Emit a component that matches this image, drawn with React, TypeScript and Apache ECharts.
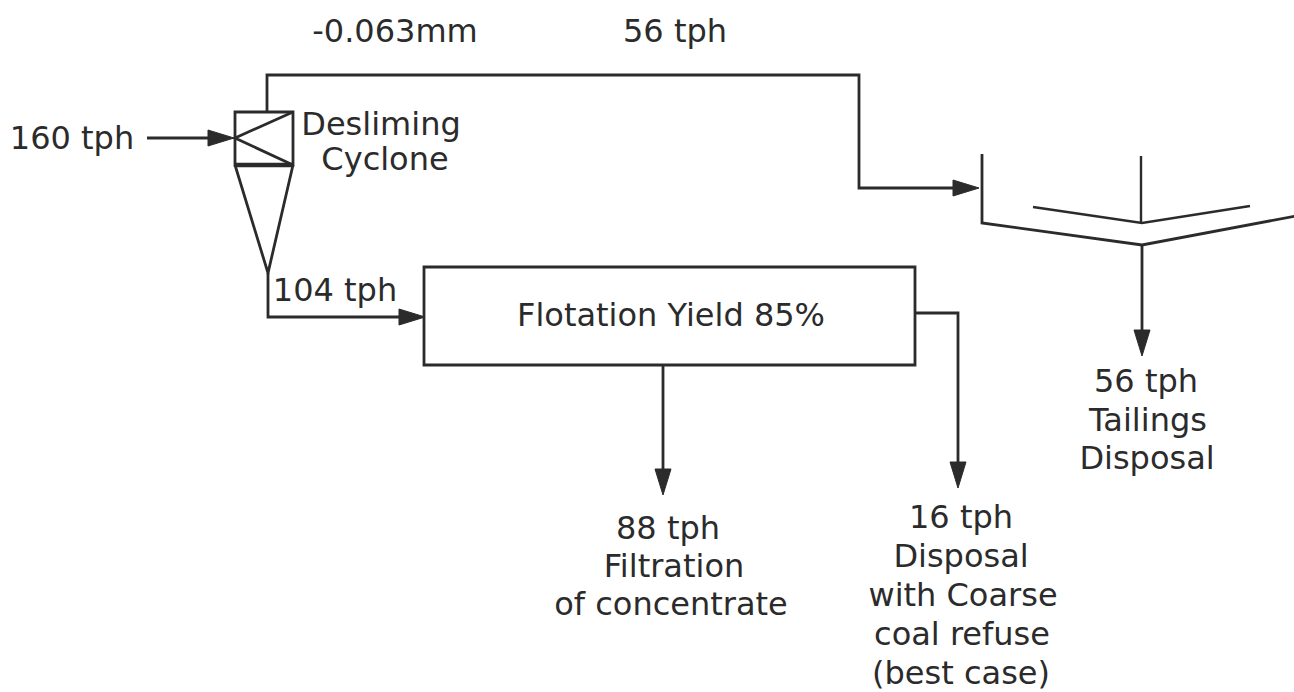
import React, { useEffect, useRef } from "react";
import * as echarts from "echarts";

// ---- Flow-sheet geometry (diagram coordinates) ----
const feedLine: [number, number][] = [[147, 138], [234, 138]];
const overflowLine: [number, number][] = [[267, 112], [267, 75], [859, 75], [859, 188], [979, 188]];
const cycloneBox: [number, number][] = [[235, 112], [293, 112], [293, 165], [235, 165]];
const cycloneBase: [number, number][] = [[235, 165], [293, 165]];
const cycloneCross: [number, number][] = [[293, 112], [235, 138], [293, 165]];
const cycloneCone: [number, number][] = [[235, 165], [268, 273], [293, 165]];
const underflowLine: [number, number][] = [[268, 273], [268, 317], [425, 317]];
const flotationBox: [number, number][] = [[424, 267], [915, 267], [915, 365], [424, 365]];
const concentrateLine: [number, number][] = [[663, 365], [663, 495]];
const refuseLine: [number, number][] = [[915, 313], [958, 313], [958, 488]];
const thickenerWall: [number, number][] = [[982, 154], [982, 223], [1142, 245], [1296, 216]];
const thickenerInner: [number, number][] = [[1033, 207], [1142, 223], [1250, 206]];
const thickenerShaft: [number, number][] = [[1141, 156], [1141, 223]];
const tailingsLine: [number, number][] = [[1142, 245], [1142, 356]];

const pathList = [
  { pts: feedLine, arrow: true, closed: false, w: 2.8 },
  { pts: overflowLine, arrow: true, closed: false, w: 2.8 },
  { pts: cycloneBox, arrow: false, closed: true, w: 2.8 },
  { pts: cycloneBase, arrow: false, closed: false, w: 4.5 },
  { pts: cycloneCross, arrow: false, closed: false, w: 2.8 },
  { pts: cycloneCone, arrow: false, closed: false, w: 2.8 },
  { pts: underflowLine, arrow: true, closed: false, w: 2.8 },
  { pts: flotationBox, arrow: false, closed: true, w: 2.8 },
  { pts: concentrateLine, arrow: true, closed: false, w: 2.8 },
  { pts: refuseLine, arrow: true, closed: false, w: 2.8 },
  { pts: thickenerWall, arrow: false, closed: false, w: 2.8 },
  { pts: thickenerInner, arrow: false, closed: false, w: 2.4 },
  { pts: thickenerShaft, arrow: false, closed: false, w: 2.4 },
  { pts: tailingsLine, arrow: true, closed: false, w: 2.8 },
];

// ---- Labels ----
const labelTexts = [
  "160 tph",
  "-0.063mm",
  "56 tph",
  "Desliming",
  "Cyclone",
  "104 tph",
  "Flotation Yield 85%",
  "88 tph",
  "Filtration",
  "of concentrate",
  "16 tph",
  "Disposal",
  "with Coarse",
  "coal refuse",
  "(best case)",
  "56 tph",
  "Tailings",
  "Disposal",
];
const labelX = [72, 395, 675, 381, 385, 335, 671, 668, 674, 671, 961, 961, 963, 962, 961, 1146, 1148, 1147];
const labelY = [138, 31, 31, 124, 159, 290, 315, 528, 566, 604, 517, 556, 595, 634, 673, 381, 420, 458];

const INK = "#2b2b2b";
const FONT = '32px "DejaVu Sans", "Liberation Sans", sans-serif';

export default function App() {
  const ref = useRef<HTMLDivElement>(null);

  useEffect(() => {
    if (!ref.current) return;
    const chart = echarts.init(ref.current, null, { renderer: "svg" });

    const option: any = {
      animation: false,
      backgroundColor: "#ffffff",
      grid: { left: 0, right: 0, top: 0, bottom: 0 },
      xAxis: { type: "value", min: 0, max: 1294, show: false },
      yAxis: { type: "value", min: 0, max: 692, inverse: true, show: false },
      series: [
        {
          type: "custom",
          coordinateSystem: "cartesian2d",
          silent: true,
          clip: false,
          data: pathList.map((p) => p.pts[0]),
          renderItem: (params: any, api: any) => {
            const p = pathList[params.dataIndex];
            const pts = p.pts.map((pt) => api.coord(pt) as number[]);
            const children: any[] = [];
            const lineStyle = { stroke: INK, lineWidth: p.w, fill: null, lineJoin: "miter" };
            if (p.arrow) {
              const n = pts.length;
              const tip = pts[n - 1];
              const prev = pts[n - 2];
              const dx = tip[0] - prev[0];
              const dy = tip[1] - prev[1];
              const len = Math.sqrt(dx * dx + dy * dy) || 1;
              const ux = dx / len;
              const uy = dy / len;
              const hl = 26;
              const hw = 8;
              const bx = tip[0] - ux * hl;
              const by = tip[1] - uy * hl;
              const linePts = pts.slice(0, n - 1).concat([[bx + ux * 4, by + uy * 4]]);
              children.push({ type: "polyline", shape: { points: linePts }, style: lineStyle });
              children.push({
                type: "polygon",
                shape: {
                  points: [
                    tip,
                    [bx - uy * hw, by + ux * hw],
                    [bx + uy * hw, by - ux * hw],
                  ],
                },
                style: { fill: INK, stroke: INK, lineWidth: 1 },
              });
            } else if (p.closed) {
              children.push({ type: "polygon", shape: { points: pts }, style: lineStyle });
            } else {
              children.push({ type: "polyline", shape: { points: pts }, style: lineStyle });
            }
            return { type: "group", children };
          },
        },
        {
          type: "custom",
          coordinateSystem: "cartesian2d",
          silent: true,
          clip: false,
          data: labelTexts.map((_, i) => [labelX[i], labelY[i]]),
          renderItem: (params: any, api: any) => {
            const c = api.coord([api.value(0), api.value(1)]);
            return {
              type: "text",
              x: c[0],
              y: c[1],
              style: {
                text: labelTexts[params.dataIndex],
                font: FONT,
                fill: INK,
                align: "center",
                verticalAlign: "middle",
              },
            };
          },
        },
      ],
    };

    chart.setOption(option);
    return () => chart.dispose();
  }, []);

  return (
    <div
      ref={ref}
      style={{ position: "absolute", left: 0, top: 0, width: 1294, height: 692, background: "#ffffff" }}
    />
  );
}
